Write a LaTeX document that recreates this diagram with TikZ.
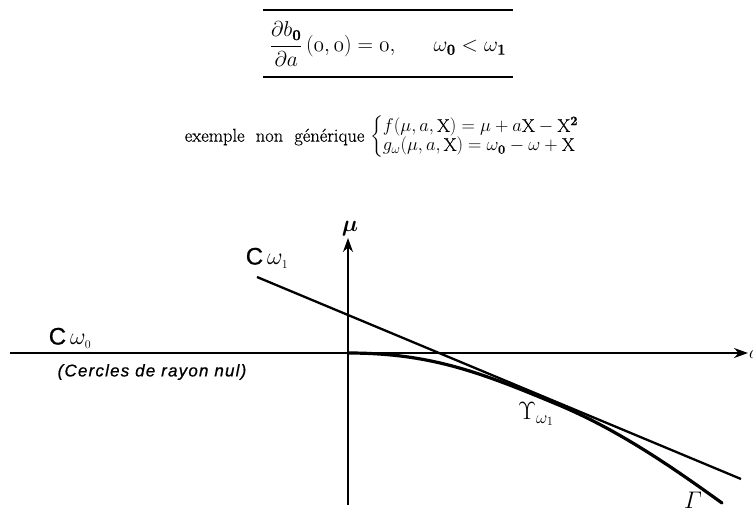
\RequirePackage{fix-cm}
\documentclass[tikz,border=0pt]{standalone}
\usepackage{amsmath}
\usepackage{fontspec}
\setmainfont{Latin Modern Roman}[FakeBold=0.6]
\newfontfamily\lsans[FakeBold=0.6]{Liberation Sans}
\newfontfamily\lsansls[LetterSpace=7,FakeBold=0.7]{Liberation Sans}
\usetikzlibrary{arrows.meta}
\begin{document}
\begin{tikzpicture}[x=1pt,y=-1pt,
  txt/.style={inner sep=0pt,font=\fontsize{18.5}{22}\selectfont},
  lab/.style={inner sep=0pt,font=\lsans\fontsize{24}{28}\selectfont},
  axis/.style={line width=1.7pt,-{Stealth[length=14pt,width=10pt]}},
  rule/.style={line width=1.3pt},
  tang/.style={line width=2.3pt},
  gam/.style={line width=3.2pt,line cap=round}]
\useasboundingbox (0,0) rectangle (753,515);
% top formula
\coordinate (r1a) at (263,10); \coordinate (r1b) at (513,10);
\coordinate (r2a) at (263,77); \coordinate (r2b) at (513,77);
\draw[rule] (r1a) -- (r1b);
\draw[rule] (r2a) -- (r2b);
\node[txt,font=\fontsize{21.5}{26}\selectfont] (f1) at (388,44) {$\dfrac{\partial b_{\mathbf 0}}{\partial a}\,(\mathnormal{0},\mathnormal{0}) = \mathnormal{0},\quad\ \ \omega_{\mathbf 0} < \omega_{\mathbf 1}$};
% example
\node[txt] (f2) at (382,137) {exemple\ \ non\ \ générique $\left\{\begin{array}{@{}l@{}} f(\mu,a,\mathrm{X}) = \mu + a\mathrm{X} - \mathrm{X}^{\mathbf 2}\\[-3pt] g_{\omega}(\mu,a,\mathrm{X}) = \omega_{\mathbf 0} - \omega + \mathrm{X}\end{array}\right.$};
% axes
\coordinate (xs) at (10,353); \coordinate (xe) at (748,353);
\coordinate (ys) at (348,505); \coordinate (ye) at (348,238);
\draw[axis] (xs) -- (xe);
\draw[axis] (ys) -- (ye);
\node[txt,anchor=west] (alab) at (749,355) {$a$};
\node[txt,anchor=south,font=\fontsize{23}{26}\selectfont] (mulab) at (350,236) {$\boldsymbol{\mu}$};
% tangent line C_omega1
\coordinate (la) at (257,277); \coordinate (lb) at (741,479);
\draw[tang] (la) -- (lb);
% curve Gamma
\coordinate (g0) at (348,353); \coordinate (g1) at (560,405.5); \coordinate (g2) at (722,503);
\draw[gam] (g0) .. controls (430,353) and (480,372) .. (g1) .. controls (620,431) and (672,467) .. (g2);
% labels
\node[lab] (c1) at (267,258) {C$\,\omega_{\scriptscriptstyle 1}$};
\node[lab] (c0) at (70,338) {C$\,\omega_{\scriptscriptstyle 0}$};
\node[inner sep=0pt,font=\lsansls\itshape\fontsize{17}{20}\selectfont] (cer) at (152,372) {(Cercles de rayon nul)};
\node[inner sep=0pt,font=\fontsize{25}{28}\selectfont] (ups) at (536,414) {$\Upsilon_{\omega_{\scriptscriptstyle 1}}$};
\node[inner sep=0pt,font=\fontsize{24}{28}\selectfont] (gl) at (693,500) {$\varGamma$};
\end{tikzpicture}
\end{document}
